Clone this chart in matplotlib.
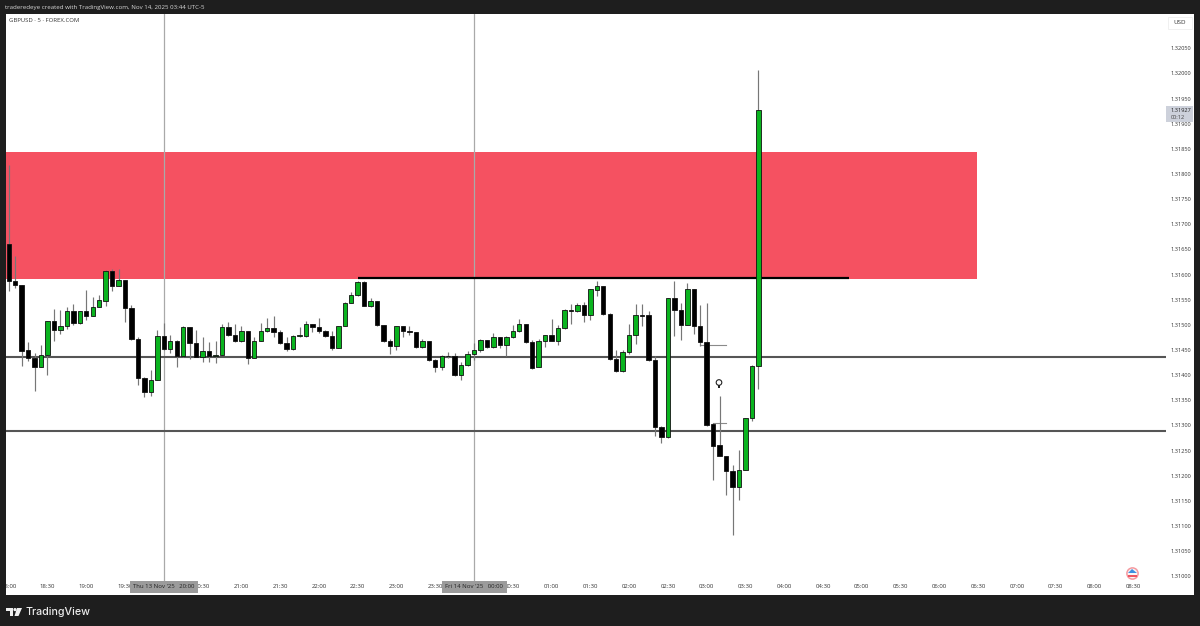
import matplotlib
matplotlib.use("Agg")
import matplotlib.pyplot as plt
from matplotlib.patches import Rectangle, Polygon, Circle
from matplotlib.transforms import IdentityTransform

plt.rcParams['font.family'] = ['Open Sans', 'DejaVu Sans']

# 5 minute candles GBPUSD (in 1e-5 price points)
opens = [131660, 131587, 131579, 131450, 131435, 131417, 131440, 131508, 131490, 131498,
         131528, 131503, 131527, 131518, 131536, 131548, 131607, 131577, 131590, 131533,
         131472, 131395, 131366, 131390, 131477, 131453, 131468, 131438, 131496, 131464,
         131437, 131449, 131438, 131441, 131496, 131479, 131468, 131488, 131435, 131468,
         131488, 131493, 131486, 131464, 131452, 131478, 131477, 131501, 131496, 131488,
         131478, 131455, 131498, 131544, 131559, 131586, 131538, 131547, 131500, 131468,
         131458, 131497, 131488, 131486, 131456, 131468, 131430, 131417, 131439, 131439,
         131401, 131420, 131443, 131450, 131469, 131456, 131475, 131460, 131475, 131487,
         131501, 131466, 131416, 131467, 131479, 131468, 131494, 131529, 131527, 131539,
         131519, 131570, 131577, 131522, 131432, 131408, 131447, 131479, 131519, 131519,
         131430, 131297, 131277, 131553, 131529, 131500, 131571, 131498, 131466, 131303,
         131261, 131240, 131210, 131177, 131212, 131314, 131418]
closes = [131587, 131579, 131448, 131435, 131417, 131440, 131508, 131490, 131498, 131528,
          131503, 131527, 131518, 131536, 131549, 131607, 131577, 131590, 131533, 131472,
          131395, 131366, 131390, 131477, 131453, 131468, 131438, 131496, 131464, 131437,
          131449, 131438, 131441, 131496, 131479, 131468, 131488, 131435, 131468, 131487,
          131493, 131486, 131464, 131452, 131478, 131479, 131501, 131496, 131488, 131478,
          131454, 131498, 131544, 131559, 131586, 131538, 131547, 131500, 131468, 131458,
          131497, 131488, 131486, 131456, 131468, 131430, 131417, 131439, 131438, 131401,
          131420, 131443, 131450, 131469, 131456, 131475, 131460, 131475, 131487, 131501,
          131466, 131415, 131467, 131479, 131468, 131494, 131530, 131527, 131539, 131519,
          131571, 131577, 131522, 131432, 131408, 131447, 131479, 131519, 131518, 131430,
          131297, 131277, 131553, 131529, 131500, 131571, 131498, 131466, 131301, 131260,
          131240, 131210, 131177, 131212, 131314, 131418, 131927]
highs = [131818, 131637, 131579, 131465, 131445, 131460, 131508, 131531, 131529, 131535,
         131541, 131527, 131569, 131556, 131559, 131610, 131612, 131612, 131590, 131539,
         131476, 131397, 131411, 131490, 131503, 131479, 131470, 131498, 131496, 131489,
         131475, 131465, 131468, 131501, 131505, 131501, 131498, 131488, 131476, 131504,
         131513, 131518, 131490, 131476, 131480, 131495, 131508, 131502, 131513, 131490,
         131488, 131498, 131546, 131566, 131588, 131588, 131553, 131548, 131500, 131471,
         131498, 131498, 131498, 131486, 131471, 131468, 131433, 131441, 131446, 131445,
         131427, 131448, 131463, 131471, 131470, 131483, 131475, 131478, 131500, 131511,
         131501, 131470, 131471, 131479, 131511, 131500, 131531, 131541, 131543, 131546,
         131571, 131588, 131577, 131523, 131450, 131451, 131501, 131541, 131541, 131528,
         131438, 131299, 131553, 131587, 131543, 131584, 131571, 131539, 131543, 131304,
         131359, 131240, 131221, 131251, 131314, 131420, 132007]
lows = [131568, 131574, 131418, 131429, 131369, 131417, 131400, 131468, 131481, 131491,
        131500, 131502, 131510, 131518, 131536, 131537, 131568, 131577, 131506, 131470,
        131380, 131357, 131358, 131390, 131451, 131444, 131417, 131437, 131432, 131437,
        131427, 131427, 131425, 131440, 131478, 131466, 131466, 131423, 131435, 131468,
        131486, 131476, 131462, 131448, 131450, 131475, 131476, 131485, 131483, 131475,
        131450, 131454, 131498, 131543, 131558, 131537, 131536, 131498, 131466, 131442,
        131451, 131476, 131480, 131455, 131455, 131429, 131407, 131410, 131435, 131399,
        131391, 131419, 131430, 131447, 131454, 131454, 131455, 131439, 131474, 131486,
        131464, 131413, 131416, 131456, 131467, 131459, 131492, 131502, 131525, 131506,
        131510, 131558, 131520, 131431, 131407, 131407, 131442, 131462, 131498, 131429,
        131279, 131265, 131275, 131478, 131470, 131500, 131482, 131458, 131299, 131192,
        131240, 131161, 131082, 131151, 131211, 131309, 131372]

# levels drawn on the chart
zone_top = 131844
zone_bottom = 131592
zone_end = 149.8
resistance = 131594
resistance_span = [54, 130]
gray_levels = [131437, 131289]
gray_end = 179
short_lines = [(107, 111, 131460), (109, 111, 131305)]

price_ticks = [131000, 131050, 131100, 131150, 131200, 131250, 131300, 131350, 131400,
               131450, 131500, 131550, 131600, 131650, 131700, 131750, 131800, 131850,
               131900, 131950, 132000, 132050]
# 20:00 and 00:00 sit under the session boxes
time_labels = ['18:00', '18:30', '19:00', '19:30', '', '20:30', '21:00', '21:30',
               '22:00', '22:30', '23:00', '23:30', '', '00:30', '01:00', '01:30',
               '02:00', '02:30', '03:00', '03:30', '04:00', '04:30', '05:00', '05:30',
               '06:00', '06:30', '07:00', '07:30', '08:00', '08:30']
session_bars = [24, 72]
session_labels = ["Thu 13 Nov '25   20:00", "Fri 14 Nov '25   00:00"]

W, H = 1200, 626
dark = '#1e1e1e'
green = '#0ab41f'
px = IdentityTransform()


def fx(x):
    return x / W


def fy(y):
    return 1 - y / H


def flip(pts):
    return [(a, H - b) for a, b in pts]


fig = plt.figure(figsize=(12, 6.26), dpi=100, facecolor=dark)
ax = fig.add_axes([fx(5.5), fy(594.5), fx(1194 - 5.5), (594.5 - 14) / H])
ax.set_xlim(-0.495, 183.4)
ax.set_ylim(130964, 132118)
for s in ax.spines.values():
    s.set_visible(False)

# zone and levels
ax.add_patch(Rectangle((-0.495, zone_bottom), zone_end + 0.495, zone_top - zone_bottom,
                       fc='#f55161', ec='none', zorder=1))
for b in session_bars:
    ax.axvline(b, ymin=0.02, color='#a9a9a9', lw=0.9, zorder=1.5)
for lvl in gray_levels:
    ax.plot([-0.495, gray_end], [lvl, lvl], color='#555555', lw=1.5, zorder=2, solid_capstyle='butt')
for x0, x1, lvl in short_lines:
    ax.plot([x0, x1], [lvl, lvl], color='#8a8a8a', lw=0.8, zorder=2.5)

# candles
for i in range(len(opens)):
    up = closes[i] >= opens[i]
    ax.plot([i, i], [lows[i], highs[i]], color='#777777', lw=0.85, zorder=3, solid_capstyle='butt')
    ax.bar(i, abs(closes[i] - opens[i]), bottom=min(opens[i], closes[i]), width=0.68,
           color=green if up else '#000000', edgecolor='#111111', lw=0.6, zorder=4)

ax.plot(resistance_span, [resistance, resistance], color='#000000', lw=1.6, zorder=3.5, solid_capstyle='butt')

# axes text
ax.yaxis.tick_right()
ax.set_yticks(price_ticks)
ax.set_yticklabels(['%.5f' % (p / 1e5) for p in price_ticks])
ax.tick_params(axis='y', length=0, pad=-17, labelsize=4.1, labelcolor='#333333')
ax.set_xticks(range(0, 6 * len(time_labels), 6))
ax.set_xticklabels(time_labels)
ax.tick_params(axis='x', length=0, pad=-7.5, labelsize=4.3, labelcolor='#333333')
for t in ax.get_xticklabels():
    t.set_clip_on(True)
    t.set_clip_box(ax.bbox)

for b, lab in zip(session_bars, session_labels):
    ax.text(b, 130979, lab, ha='center', va='center', fontsize=4.3, color='#222222', zorder=6,
            bbox=dict(boxstyle='square,pad=0.6', fc='#9b9b9b', ec='none'))

fig.text(fx(9), fy(21), 'GBPUSD · 5 · FOREX.COM', fontsize=4.3, color='#333333', va='center')
fig.text(fx(5), fy(7), 'traderedeye created with TradingView.com, Nov 14, 2025 03:44 UTC-5',
         fontsize=4.4, color='#d8d8d8', va='center')

# price tag and currency box
fig.add_artist(Rectangle((1166, H - 122), 27, 16, fc='#cdd1db', ec='none', transform=px, zorder=6))
fig.text(fx(1171), fy(110.5), '1.31927', fontsize=4.1, color='#222222', va='center', zorder=7)
fig.text(fx(1171), fy(117.5), '00:12', fontsize=4.1, color='#444444', va='center', zorder=7)
fig.add_artist(Rectangle((1168, H - 29), 24, 12, fc='white', ec='#eeeeee', lw=0.6, transform=px, zorder=6))
fig.text(fx(1180), fy(23), 'USD', fontsize=4.5, color='#333333', ha='center', va='center', zorder=7)

# bulb icon
fig.add_artist(Circle((719, H - 382.5), 2.8, fc='white', ec='#222222', lw=0.8, transform=px, zorder=6))
fig.add_artist(Rectangle((717.8, H - 388), 2.4, 3, fc='#222222', ec='none', transform=px, zorder=6))

# flag icon
fig.add_artist(Circle((1132.5, H - 573.5), 5.6, fc='#f7f7f7', ec='#f59aa0', lw=1.1, transform=px, zorder=6))
fig.add_artist(Polygon(flip([(1128, 573), (1132, 569), (1137, 573)]), fc='#3d8fe0', ec='none', transform=px, zorder=7))
fig.add_artist(Rectangle((1128, H - 576.5), 9, 1.2, fc='#ee5560', ec='none', transform=px, zorder=7))

# TradingView logo
logo = [[(6, 608), (13, 608), (13, 616), (9.5, 616), (9.5, 611), (6, 611)],
        [(17, 608), (22, 608), (18.5, 616), (14.5, 616)]]
for pts in logo:
    fig.add_artist(Polygon(flip(pts), fc='#f0f0f0', ec='none', transform=px))
fig.add_artist(Circle((15, H - 609.6), 1.6, fc='#f0f0f0', ec='none', transform=px))
fig.text(fx(25), fy(612), 'TradingView', fontsize=7.7, color='#ececec', va='center',
         family=['Inter', 'DejaVu Sans'], weight='medium')

fig.savefig('out.png', dpi=100, facecolor=dark)
